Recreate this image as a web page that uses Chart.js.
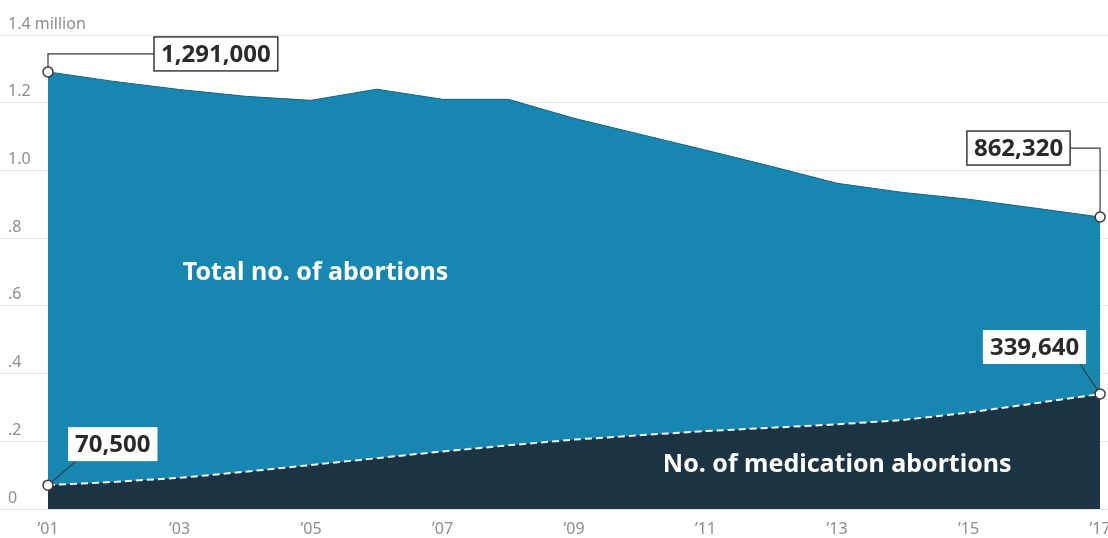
<!DOCTYPE html>
<html lang="en">
<head>
    <meta charset="UTF-8">
    <title>Total vs medication abortions</title>
    <style>
        body {
            margin: 0;
            background-color: #fff;
        }
        .wrap {
            position: relative;
            width: 1108px;
            height: 538px;
        }
    </style>
</head>
<body>

<div class="wrap">
    <canvas id="myChart"></canvas>
</div>

<script src="https://cdn.jsdelivr.net/npm/chart.js@4.4.0/dist/chart.umd.min.js"></script>
<script>
// data
const years = [2001, 2002, 2003, 2004, 2005, 2006, 2007, 2008, 2009, 2010, 2011, 2012, 2013, 2014, 2015, 2016, 2017];
const totalAbortions = [1291000, 1263000, 1239000, 1219000, 1207000, 1240000, 1210000, 1210000, 1154000, 1107000, 1060000, 1012000, 962000, 935000, 915000, 889000, 862320];
const medicationAbortions = [70500, 80000, 92000, 110000, 130000, 150000, 170000, 188000, 205000, 218000, 230000, 240000, 250000, 263000, 285000, 312000, 339640];

const xTickYears = [2001, 2003, 2005, 2007, 2009, 2011, 2013, 2015, 2017];
const xTickLabels = ['\u201901', '\u201903', '\u201905', '\u201907', '\u201909', '\u201911', '\u201913', '\u201915', '\u201917'];
const yTickValues = [0, 200000, 400000, 600000, 800000, 1000000, 1200000, 1400000];
const yTickLabels = ['0', '.2', '.4', '.6', '.8', '1.0', '1.2', '1.4 million'];

const seriesNames = ['No. of medication abortions', 'Total no. of abortions'];

const TEAL = '#1787b2';
const NAVY = '#1c3343';
const LABEL_FONT = "'Noto Sans', 'DejaVu Sans', sans-serif";

const last = years.length - 1;
const endPoints = years.map((_, i) => (i === 0 || i === last) ? 5 : 0);

function fmt(v) {
    return v.toLocaleString('en-US');
}

function valueBox(ctx, text, left, top, bordered) {
    ctx.font = 'bold 24px ' + LABEL_FONT;
    const w = ctx.measureText(text).width + 14;
    const h = 34;
    ctx.fillStyle = '#fff';
    ctx.fillRect(left, top, w, h);
    if (bordered) {
        ctx.strokeStyle = '#3a3a3a';
        ctx.lineWidth = 1.5;
        ctx.strokeRect(left, top, w, h);
    }
    ctx.fillStyle = '#2a2a2a';
    ctx.textAlign = 'left';
    ctx.textBaseline = 'middle';
    ctx.fillText(text, left + 7, top + h / 2 + 1);
    return w;
}

function boxWidth(ctx, text) {
    ctx.font = 'bold 24px ' + LABEL_FONT;
    return ctx.measureText(text).width + 14;
}

function leader(ctx, pts, r) {
    // pts[0] is the data point, stop the line at the circle edge
    const [p0, p1] = pts;
    const dx = p1[0] - p0[0], dy = p1[1] - p0[1];
    const len = Math.hypot(dx, dy);
    ctx.beginPath();
    ctx.moveTo(p0[0] + dx / len * r, p0[1] + dy / len * r);
    for (let i = 1; i < pts.length; i++) ctx.lineTo(pts[i][0], pts[i][1]);
    ctx.strokeStyle = '#3a3a3a';
    ctx.lineWidth = 1.2;
    ctx.stroke();
}

const annotations = {
    id: 'annotations',
    afterDraw(chart) {
        const {ctx, scales: {x, y}} = chart;
        ctx.save();

        // series names inside the areas
        ctx.font = 'bold 25px ' + LABEL_FONT;
        ctx.fillStyle = '#fff';
        ctx.textAlign = 'left';
        ctx.textBaseline = 'middle';
        ctx.fillText(seriesNames[1], x.getPixelForValue(2003.05), y.getPixelForValue(697000));
        ctx.fillText(seriesNames[0], x.getPixelForValue(2010.35), y.getPixelForValue(129000));

        const x0 = x.getPixelForValue(years[0]);
        const x1 = x.getPixelForValue(years[last]);

        // 1,291,000
        let px = x0, py = y.getPixelForValue(totalAbortions[0]);
        leader(ctx, [[px, py], [px, py - 18], [px + 106, py - 18]], 5);
        valueBox(ctx, fmt(totalAbortions[0]), px + 106, py - 35, true);

        // 862,320
        px = x1; py = y.getPixelForValue(totalAbortions[last]);
        let w = boxWidth(ctx, fmt(totalAbortions[last]));
        leader(ctx, [[px, py], [px, py - 69], [px - 30, py - 69]], 5);
        valueBox(ctx, fmt(totalAbortions[last]), px - 30 - w, py - 86, true);

        // 70,500
        px = x0; py = y.getPixelForValue(medicationAbortions[0]);
        leader(ctx, [[px, py], [px + 28, py - 24]], 5);
        valueBox(ctx, fmt(medicationAbortions[0]), px + 20, py - 58, false);

        // 339,640
        px = x1; py = y.getPixelForValue(medicationAbortions[last]);
        w = boxWidth(ctx, fmt(medicationAbortions[last]));
        leader(ctx, [[px, py], [px - 20, py - 30]], 5);
        valueBox(ctx, fmt(medicationAbortions[last]), px - 14 - w, py - 64, false);

        ctx.restore();
    }
};

const ctx = document.getElementById('myChart').getContext('2d');
new Chart(ctx, {
    type: 'line',
    data: {
        datasets: [
            {
                label: seriesNames[0],
                data: years.map((yr, i) => ({x: yr, y: medicationAbortions[i]})),
                fill: 'origin',
                backgroundColor: NAVY,
                borderColor: '#f4f4f4',
                borderWidth: 2,
                borderDash: [7, 4],
                tension: 0,
                pointRadius: endPoints,
                pointBackgroundColor: '#fff',
                pointBorderColor: '#3a3a3a',
                pointBorderWidth: 1.5
            },
            {
                label: seriesNames[1],
                data: years.map((yr, i) => ({x: yr, y: totalAbortions[i]})),
                fill: 'origin',
                backgroundColor: TEAL,
                borderColor: '#16617f',
                borderWidth: 1,
                tension: 0,
                pointRadius: endPoints,
                pointBackgroundColor: '#fff',
                pointBorderColor: '#3a3a3a',
                pointBorderWidth: 1.5
            }
        ]
    },
    options: {
        responsive: true,
        maintainAspectRatio: false,
        animation: false,
        layout: {
            autoPadding: false,
            padding: {top: 35, right: 0, bottom: 0, left: 0}
        },
        plugins: {
            legend: {display: false},
            tooltip: {enabled: false}
        },
        scales: {
            x: {
                type: 'linear',
                min: 2000.27,
                max: 2017.12,
                grid: {display: false, drawTicks: false},
                border: {display: false},
                afterBuildTicks: scale => {
                    scale.ticks = xTickYears.map(v => ({value: v}));
                },
                afterFit: scale => {
                    scale.height = 29;
                    scale.paddingLeft = 0;
                    scale.paddingRight = 0;
                },
                ticks: {
                    autoSkip: false,
                    maxRotation: 0,
                    padding: 11,
                    color: '#8d8d8d',
                    font: {family: LABEL_FONT, size: 16},
                    callback: v => xTickLabels[xTickYears.indexOf(v)]
                }
            },
            y: {
                min: 0,
                max: 1400000,
                z: 1,
                border: {display: false},
                grid: {
                    color: 'rgba(0, 0, 0, 0.1)',
                    lineWidth: 1,
                    drawTicks: false
                },
                afterBuildTicks: scale => {
                    scale.ticks = yTickValues.map(v => ({value: v}));
                },
                afterFit: scale => {
                    scale.width = 0;
                    scale.paddingTop = 0;
                    scale.paddingBottom = 0;
                },
                ticks: {
                    mirror: true,
                    padding: 8,
                    labelOffset: -11,
                    color: '#8d8d8d',
                    font: {family: LABEL_FONT, size: 16},
                    callback: v => yTickLabels[yTickValues.indexOf(v)]
                }
            }
        }
    },
    plugins: [annotations]
});
</script>

</body>
</html>
